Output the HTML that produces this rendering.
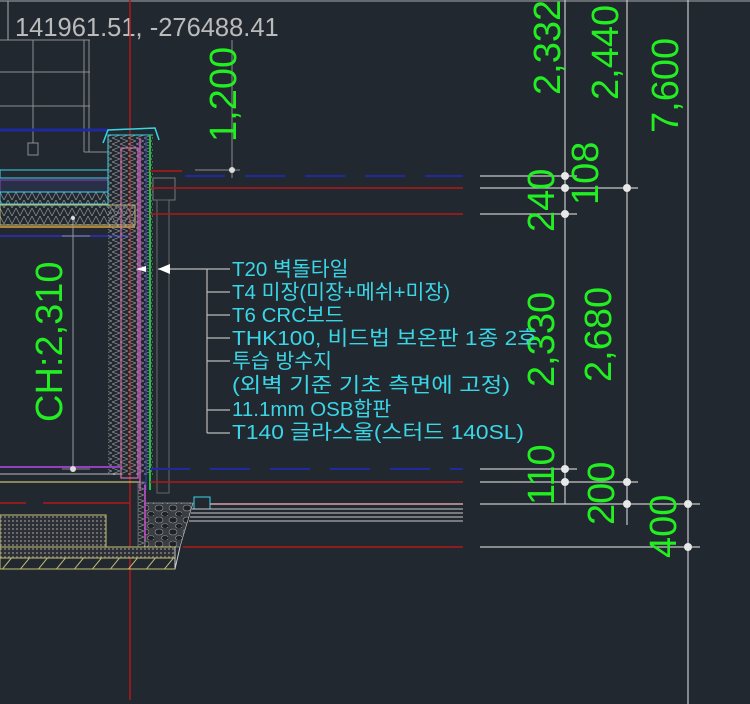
<!DOCTYPE html>
<html><head><meta charset="utf-8"><style>
html,body{margin:0;padding:0;background:#212830;}
svg{display:block}
.dim{fill:#22ee22;font-family:"Liberation Sans",sans-serif;font-size:38px}
.lbl{fill:#3ad6e6;font-family:"Liberation Sans","Noto Sans CJK KR",sans-serif;font-size:20.5px}
</style></head><body>
<svg width="750" height="704" viewBox="0 0 750 704" xmlns="http://www.w3.org/2000/svg">
<defs>
<pattern id="zig" width="8" height="8" patternUnits="userSpaceOnUse"><path d="M0 0 L4 8 L8 0" stroke="#8a8a8a" stroke-width="0.8" fill="none"/></pattern>
<pattern id="zigv" width="8" height="6" patternUnits="userSpaceOnUse"><path d="M0 0 L8 3 L0 6" stroke="#8a8a8a" stroke-width="0.8" fill="none"/></pattern>
<pattern id="dots" width="4" height="4" patternUnits="userSpaceOnUse"><rect width="4" height="4" fill="#2c3036"/><rect width="2" height="2" fill="#6a6a6a"/></pattern>
<pattern id="hatch" width="18" height="22" patternUnits="userSpaceOnUse"><path d="M0 22 L18 0" stroke="#c8c070" stroke-width="1"/></pattern>
<pattern id="grav" width="14" height="12" patternUnits="userSpaceOnUse"><rect width="14" height="12" fill="#3a3d42"/><ellipse cx="5" cy="4" rx="4" ry="3" fill="#1e2329" stroke="#999" stroke-width="0.6"/><ellipse cx="11" cy="10" rx="3.5" ry="2.5" fill="#1e2329" stroke="#999" stroke-width="0.6"/></pattern>
</defs>
<rect width="750" height="704" fill="#212830"/>
<line x1="0" y1="1" x2="750" y2="1" stroke="#aaa" stroke-width="1"/>
<path d="M0 40 H8 V1" stroke="#aaa" fill="none"/>
<text x="15" y="36" font-family="Liberation Sans,sans-serif" font-size="25.5" fill="#bbb">141961.51, -276488.41</text>
<g stroke="#8d8d8d" stroke-width="1" fill="none">
<line x1="0" y1="40" x2="90" y2="40"/>
<line x1="33" y1="40" x2="33" y2="143"/>
<rect x="28" y="143" width="10" height="12"/>
<line x1="0" y1="72" x2="90" y2="72"/>
<line x1="0" y1="106" x2="90" y2="106"/>
<line x1="84" y1="40" x2="84" y2="152"/>
<line x1="89" y1="40" x2="89" y2="152"/>
<line x1="84" y1="152" x2="108" y2="152"/>
<line x1="232" y1="40" x2="232" y2="178"/>
<line x1="195" y1="170" x2="240" y2="170"/>
</g>
<circle cx="232" cy="170" r="3" fill="#ddd"/>
<line x1="130" y1="0" x2="130" y2="700" stroke="#b01818" stroke-width="1.5"/>
<line x1="0" y1="130" x2="108" y2="130" stroke="#1f2aa0" stroke-width="3"/>
<rect x="0" y="170" width="108" height="8" fill="none" stroke="#3ad6e6" stroke-width="1"/>
<rect x="0" y="180" width="108" height="12" fill="#2a2f48" stroke="#9040c0" stroke-width="1"/>
<rect x="0" y="192" width="108" height="12" fill="url(#zig)" stroke="#3ad6e6" stroke-width="1"/>
<rect x="0" y="205" width="135" height="20" fill="url(#zig)" stroke="#c8c070" stroke-width="1"/>
<line x1="0" y1="227" x2="135" y2="227" stroke="#e0a040" stroke-width="1.5"/>
<line x1="0" y1="236" x2="130" y2="236" stroke="#2a2fa0" stroke-width="2"/>
<line x1="73" y1="215" x2="73" y2="470" stroke="#999"/>
<line x1="62" y1="236" x2="90" y2="236" stroke="#888"/>
<rect x="108" y="135" width="45" height="340" fill="url(#zigv)"/>
<path d="M108 200 V135 H153" stroke="#3ad6e6" fill="none"/>
<path d="M103 143 L108 130 L155 128 L159 140" stroke="#3ad6e6" stroke-width="1.5" fill="none"/>
<rect x="121" y="148" width="17" height="330" fill="none" stroke="#d070b0" stroke-width="1.2"/>
<line x1="140" y1="138" x2="140" y2="490" stroke="#d050d0" stroke-width="1.5"/>
<line x1="150" y1="135" x2="150" y2="490" stroke="#20c040" stroke-width="2"/>
<line x1="146" y1="135" x2="146" y2="490" stroke="#3040c0" stroke-width="1"/>
<rect x="153" y="178" width="22" height="22" fill="none" stroke="#777"/>
<rect x="157" y="200" width="12" height="293" fill="none" stroke="#666"/>
<line x1="0" y1="467" x2="121" y2="467" stroke="#9040c0" stroke-width="2"/>
<line x1="0" y1="474" x2="121" y2="474" stroke="#bbb" stroke-width="1"/>
<line x1="0" y1="482" x2="140" y2="482" stroke="#c8c070" stroke-width="1.2"/>
<line x1="62" y1="469" x2="90" y2="469" stroke="#888"/>
<circle cx="73" cy="469" r="3" fill="#ddd"/><circle cx="73" cy="218" r="2" fill="#ddd"/>
<line x1="0" y1="503" x2="26" y2="503" stroke="#b01818" stroke-width="1.5"/>
<line x1="43" y1="503" x2="130" y2="503" stroke="#b01818" stroke-width="1.5"/>
<rect x="0" y="515" width="106" height="32" fill="url(#dots)" stroke="#c8c070" stroke-width="1"/>
<rect x="138" y="482" width="7" height="65" fill="url(#zigv)" stroke="#999" stroke-width="0.5"/>
<path d="M145 503 H193 L180 547 H145 Z" fill="url(#grav)" stroke="#ccc" stroke-width="0.6"/>
<line x1="145" y1="485" x2="145" y2="540" stroke="#d050d0" stroke-width="1.5"/>
<rect x="0" y="547" width="175" height="11" fill="url(#dots)" stroke="#c8c070" stroke-width="1"/>
<rect x="0" y="558" width="175" height="11" fill="url(#hatch)" stroke="#c8c070" stroke-width="1"/>
<path d="M175 547 V569 L180 547" stroke="#ccc" fill="none"/>
<rect x="194" y="497" width="16" height="12" fill="none" stroke="#3ad6e6" stroke-width="1"/>
<line x1="150" y1="171" x2="182" y2="171" stroke="#b01818" stroke-width="1.5"/>
<line x1="185" y1="176" x2="463" y2="176" stroke="#1f2aa0" stroke-width="2" stroke-dasharray="40,20"/>
<line x1="150" y1="188" x2="463" y2="188" stroke="#b01818" stroke-width="1.5"/>
<line x1="150" y1="214" x2="463" y2="214" stroke="#b01818" stroke-width="1.5"/>
<line x1="150" y1="469" x2="463" y2="469" stroke="#1f2aa0" stroke-width="2" stroke-dasharray="40,20"/>
<line x1="150" y1="482" x2="463" y2="482" stroke="#b01818" stroke-width="1.5"/>
<line x1="210" y1="504" x2="463" y2="504" stroke="#d8a0a8" stroke-width="1.5"/>
<g stroke="#ccc" stroke-width="1"><line x1="192" y1="509" x2="463" y2="509"/><line x1="191" y1="513" x2="463" y2="513"/><line x1="190" y1="517" x2="463" y2="517"/><line x1="189" y1="521" x2="463" y2="521"/></g>
<line x1="183" y1="547" x2="463" y2="547" stroke="#b01818" stroke-width="1.5"/>
<g stroke="#c8c8c8" stroke-width="1.2">
<line x1="565" y1="0" x2="565" y2="504"/>
<line x1="627" y1="0" x2="627" y2="525"/>
<line x1="688" y1="0" x2="688" y2="704"/>
<line x1="480" y1="176" x2="577" y2="176"/>
<line x1="480" y1="188" x2="638" y2="188"/>
<line x1="480" y1="214" x2="577" y2="214"/>
<line x1="480" y1="469" x2="577" y2="469"/>
<line x1="480" y1="482" x2="638" y2="482"/>
<line x1="480" y1="504" x2="700" y2="504"/>
<line x1="480" y1="547" x2="700" y2="547"/>
</g>
<g fill="#e8e8e8"><circle cx="565" cy="176" r="4"/><circle cx="565" cy="188" r="4"/><circle cx="627" cy="188" r="4"/><circle cx="565" cy="214" r="4"/><circle cx="565" cy="469" r="4"/><circle cx="565" cy="482" r="4"/><circle cx="627" cy="482" r="4"/><circle cx="627" cy="504" r="4"/><circle cx="688" cy="504" r="4"/><circle cx="688" cy="547" r="4"/></g>
<text class="dim" transform="translate(560,95) rotate(-90)">2,332</text>
<text class="dim" transform="translate(618,100) rotate(-90)">2,440</text>
<text class="dim" transform="translate(678,133) rotate(-90)">7,600</text>
<text class="dim" transform="translate(236,142) rotate(-90)" font-size="27">1,200</text>
<text class="dim" transform="translate(598,205) rotate(-90)">108</text>
<text class="dim" transform="translate(554,232) rotate(-90)">240</text>
<text class="dim" transform="translate(554,387) rotate(-90)">2,330</text>
<text class="dim" transform="translate(611,382) rotate(-90)">2,680</text>
<text class="dim" transform="translate(554,505) rotate(-90)">110</text>
<text class="dim" transform="translate(614,525) rotate(-90)">200</text>
<text class="dim" transform="translate(676,558) rotate(-90)">400</text>
<text class="dim" transform="translate(62,422) rotate(-90)">CH:2,310</text>
<line x1="158" y1="269" x2="230" y2="269" stroke="#bbb" stroke-width="1.2"/>
<path d="M158 269 L170 264 V274 Z" fill="#fff"/>
<path d="M136 269 L146 266 V272 Z" fill="#fff"/>
<path d="M207 269 V433" stroke="#bbb" stroke-width="1.2" fill="none"/>
<g stroke="#bbb" stroke-width="1.2"><line x1="207" y1="292" x2="230" y2="292"/><line x1="207" y1="315" x2="230" y2="315"/><line x1="207" y1="338" x2="230" y2="338"/><line x1="207" y1="361" x2="230" y2="361"/><line x1="207" y1="410" x2="230" y2="410"/><line x1="207" y1="433" x2="230" y2="433"/></g>
<text class="lbl" x="232" y="276">T20 벽돌타일</text>
<text class="lbl" x="232" y="299">T4 미장(미장+메쉬+미장)</text>
<text class="lbl" x="232" y="322">T6 CRC보드</text>
<text class="lbl" x="232" y="345" textLength="306" lengthAdjust="spacingAndGlyphs">THK100, 비드법 보온판 1종 2호</text>
<text class="lbl" x="232" y="368">투습 방수지</text>
<text class="lbl" x="232" y="392" textLength="278" lengthAdjust="spacingAndGlyphs">(외벽 기준 기초 측면에 고정)</text>
<text class="lbl" x="232" y="416">11.1mm OSB합판</text>
<text class="lbl" x="232" y="439" textLength="292" lengthAdjust="spacingAndGlyphs">T140 글라스울(스터드 140SL)</text>
</svg>
</body></html>
